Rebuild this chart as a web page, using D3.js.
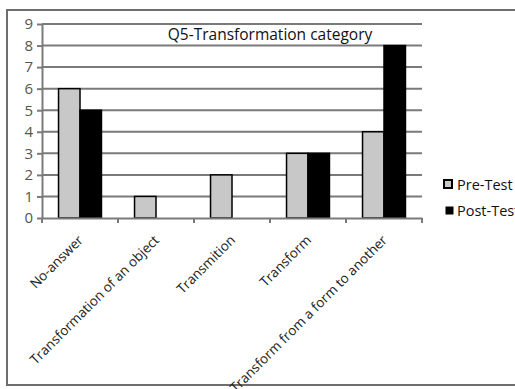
<!DOCTYPE html>
<html>
<head>
<meta charset="utf-8">
<script src="https://cdn.jsdelivr.net/npm/d3@7"></script>
<style>
  body { margin: 0; background: #fff; }
  text { font-family: "Open Sans", "Lato", sans-serif; }
</style>
</head>
<body>
<div id="chart"></div>
<script>
// Chart data
const categories = ["No-answer", "Transformation of an object", "Transmition", "Transform", "Transform from a form to another"];
const preTest = [6, 1, 2, 3, 4];
const postTest = [5, 0, 0, 3, 8];
const seriesNames = ["Pre-Test", "Post-Test"];
const yTicks = [0, 1, 2, 3, 4, 5, 6, 7, 8, 9];
const titleText = "Q5-Transformation category";

const WIDTH = 515, HEIGHT = 389;
const PLOT = { LEFT: 42, RIGHT: 422, TOP: 24, BOTTOM: 218 };
const colors = ["#c8c8c8", "#000000"];
const GRID = "#7a7a7a";

const svg = d3.select("#chart").append("svg")
  .attr("width", WIDTH)
  .attr("height", HEIGHT);

// Outer frame (runs off the right edge like the original)
svg.append("rect")
  .attr("x", 7).attr("y", 10)
  .attr("width", WIDTH + 10).attr("height", 375)
  .attr("fill", "none")
  .attr("stroke", "#6e6e6e")
  .attr("stroke-width", 2);

const x = d3.scaleBand().domain(categories).range([PLOT.LEFT, PLOT.RIGHT]).padding(0);
const x1 = d3.scaleBand().domain(seriesNames).range([0, x.bandwidth()]).paddingOuter(0.77).paddingInner(0);
const y = d3.scaleLinear().domain([0, 9]).range([PLOT.BOTTOM, PLOT.TOP]);

// Grid lines
svg.append("g")
  .selectAll("line")
  .data(yTicks.filter(d => d > 0))
  .join("line")
    .attr("x1", PLOT.LEFT).attr("x2", PLOT.RIGHT)
    .attr("y1", d => y(d)).attr("y2", d => y(d))
    .attr("stroke", GRID)
    .attr("stroke-width", 2);

// Title
svg.append("text")
  .attr("x", 270)
  .attr("y", 40)
  .attr("text-anchor", "middle")
  .attr("font-size", 15.5)
  .attr("fill", "#111")
  .text(titleText);

// Bars
const data = categories.map((c, i) => ({ cat: c, values: [preTest[i], postTest[i]] }));
const groups = svg.append("g").selectAll("g")
  .data(data)
  .join("g")
    .attr("transform", d => `translate(${x(d.cat)},0)`);

groups.selectAll("rect")
  .data(d => d.values.map((v, k) => ({ key: seriesNames[k], value: v, k })).filter(e => e.value > 0))
  .join("rect")
    .attr("x", d => x1(d.key))
    .attr("y", d => y(d.value))
    .attr("width", x1.bandwidth())
    .attr("height", d => y(0) - y(d.value))
    .attr("fill", d => colors[d.k])
    .attr("stroke", "#000")
    .attr("stroke-width", 1.5);

// Y axis
const yAxis = svg.append("g")
  .attr("transform", `translate(${PLOT.LEFT},0)`)
  .call(d3.axisLeft(y).tickValues(yTicks).tickSize(5).tickSizeOuter(0));
yAxis.select(".domain").attr("stroke", GRID).attr("stroke-width", 2);
yAxis.selectAll(".tick line").attr("stroke", GRID).attr("stroke-width", 2);
yAxis.selectAll(".tick text")
  .attr("font-size", 15)
  .attr("fill", "#555")
  .attr("x", -9)
  .style("font-family", "'Open Sans', sans-serif");

// X axis
const xAxis = svg.append("g")
  .attr("transform", `translate(0,${PLOT.BOTTOM})`)
  .call(d3.axisBottom(x).tickSize(0).tickSizeOuter(0));
xAxis.select(".domain").attr("stroke", GRID).attr("stroke-width", 2);
xAxis.selectAll(".tick text")
  .attr("font-size", 13.5)
  .attr("fill", "#222")
  .attr("text-anchor", "end")
  .attr("dy", 0)
  .attr("y", 0)
  .attr("transform", "translate(4,23) rotate(-45)")
  .style("font-family", "'Open Sans', sans-serif");

// Category boundary ticks
svg.append("g")
  .selectAll("line")
  .data(d3.range(categories.length + 1))
  .join("line")
    .attr("x1", i => PLOT.LEFT + i * x.step())
    .attr("x2", i => PLOT.LEFT + i * x.step())
    .attr("y1", PLOT.BOTTOM)
    .attr("y2", PLOT.BOTTOM + 5)
    .attr("stroke", GRID)
    .attr("stroke-width", 2);

// Legend
const legend = svg.append("g").attr("transform", "translate(444,180)");
seriesNames.forEach((name, i) => {
  const row = legend.append("g").attr("transform", `translate(0,${i * 26})`);
  row.append("rect")
    .attr("x", i === 0 ? 0 : 2).attr("y", i === 0 ? 0 : 1)
    .attr("width", i === 0 ? 8 : 7).attr("height", i === 0 ? 8 : 7)
    .attr("fill", colors[i])
    .attr("stroke", "#000")
    .attr("stroke-width", i === 0 ? 2 : 1);
  row.append("text")
    .attr("x", 13).attr("y", 10)
    .attr("font-size", 14.5)
    .attr("fill", "#111")
    .text(name);
});
</script>
</body>
</html>
